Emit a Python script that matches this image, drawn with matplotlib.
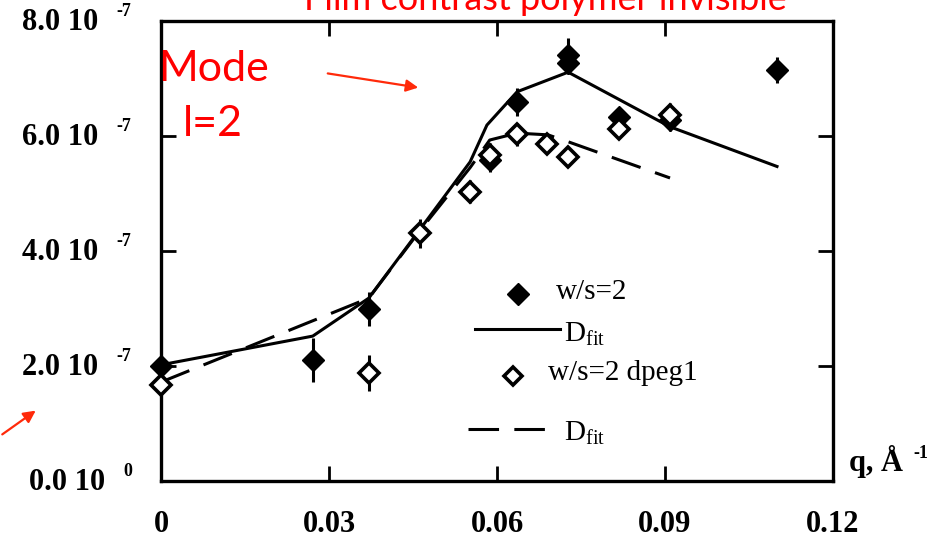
import matplotlib
matplotlib.use("Agg")
import matplotlib.pyplot as plt
import numpy as np

plt.rcParams["mathtext.fontset"] = "custom"
plt.rcParams["mathtext.rm"] = "Liberation Serif"
plt.rcParams["mathtext.it"] = "Liberation Serif:italic"
plt.rcParams["mathtext.bf"] = "Liberation Serif:bold"

# values of y are in units of 1e-7
q_filled = [0.0, 0.0271, 0.0371, 0.0587, 0.0636, 0.0727, 0.0727, 0.0818, 0.0909, 0.110]
d_filled = [2.00, 2.10, 2.99, 5.58, 6.59, 7.41, 7.27, 6.33, 6.28, 7.15]
e_filled = [0.0, 0.38, 0.30, 0.20, 0.25, 0.30, 0.20, 0.17, 0.20, 0.23]

q_open = [0.0, 0.0371, 0.0462, 0.0552, 0.0587, 0.0636, 0.0689, 0.0727, 0.0818, 0.0909]
d_open = [1.67, 1.88, 4.31, 5.03, 5.67, 6.03, 5.86, 5.64, 6.12, 6.37]
e_open = [0.0, 0.32, 0.25, 0.20, 0.20, 0.20, 0.0, 0.0, 0.0, 0.20]

q_fit = [0.0, 0.0271, 0.0371, 0.0462, 0.0552, 0.0582, 0.0636, 0.0727, 0.0909, 0.110]
d_fit = [2.02, 2.52, 3.18, 4.37, 5.55, 6.19, 6.77, 7.11, 6.16, 5.47]

q_fit2 = [0.0, 0.0371, 0.0462, 0.0552, 0.0587, 0.0636, 0.0691, 0.0727, 0.0909]
d_fit2 = [1.72, 3.18, 4.35, 5.45, 5.93, 6.05, 6.02, 5.90, 5.27]

x_ticks = [0, 0.03, 0.06, 0.09, 0.12]
x_labels = ["0", "0.03", "0.06", "0.09", "0.12"]
y_ticks = [0, 2, 4, 6, 8]
y_mant = ["0.0 10", "2.0 10", "4.0 10", "6.0 10", "8.0 10"]
y_exp = ["0", "-7", "-7", "-7", "-7"]

serif = "Liberation Serif"
red = "#ff0000"

fig = plt.figure(figsize=(9.51, 5.39), dpi=100)
ax = fig.add_axes([161 / 951, 1 - 481 / 539, 672 / 951, 460 / 539])

ax.plot(q_fit, d_fit, color="black", lw=2.2, zorder=2)
ax.plot(q_fit2, d_fit2, color="black", lw=2.2, dashes=(10, 5), zorder=2)

ax.errorbar(q_filled, d_filled, yerr=e_filled, fmt="D", ms=11, mfc="black", mec="black",
            ecolor="black", elinewidth=2.2, capsize=0, zorder=3, clip_on=False)
ax.errorbar(q_open, d_open, yerr=e_open, fmt="D", ms=10, mfc="white", mec="black", mew=2.6,
            ecolor="black", elinewidth=2.2, capsize=0, zorder=4, clip_on=False)

ax.set_xlim(0, 0.12)
ax.set_ylim(0, 8)
for s in ax.spines.values():
    s.set_linewidth(2.4)
ax.set_xticks(x_ticks)
ax.set_xticklabels(x_labels, fontfamily=serif, fontweight="bold", fontsize=22)
ax.set_yticks(y_ticks)
ax.set_yticklabels([])
ax.tick_params(direction="in", length=11, width=2, top=True, right=True, pad=21)

# y tick labels "a.b 10" with exponent
ytr = ax.get_yaxis_transform()
for i, v in enumerate(y_ticks):
    dx = -45 if v > 0 else -40
    ax.annotate(y_mant[i], xy=(0, v), xycoords=ytr, xytext=(dx, -1), textcoords="offset points",
                ha="right", va="center", fontfamily=serif, fontweight="bold", fontsize=22,
                annotation_clip=False)
    ax.annotate(y_exp[i], xy=(0, v), xycoords=ytr, xytext=(dx + 13, 7), textcoords="offset points",
                ha="left", va="center", fontfamily=serif, fontweight="bold", fontsize=13,
                annotation_clip=False)

# x axis label
fig.text(849 / 951, 1 - 462 / 539, "q, Å", fontfamily=serif, fontweight="bold", fontsize=22,
         ha="left", va="center")
fig.text(913 / 951, 1 - 453 / 539, "-1", fontfamily=serif, fontweight="bold", fontsize=13,
         ha="left", va="center")

# legend drawn by hand
lx = ax.transAxes.inverted()
def ax_pt(px, py):
    return lx.transform(fig.transFigure.transform((px / 951, 1 - py / 539)))

leg = dict(fontfamily=serif, fontsize=21, va="center", ha="left", transform=ax.transAxes)
p = ax_pt(518, 294)
ax.plot(p[0], p[1], "D", ms=11, color="black", transform=ax.transAxes)
ax.text(*ax_pt(556, 292), "w/s=2", **leg)
a, b = ax_pt(475, 329), ax_pt(560, 329)
ax.plot([a[0], b[0]], [a[1], b[1]], color="black", lw=2.2, transform=ax.transAxes)
ax.text(*ax_pt(564, 334), r"D$_{\mathrm{fit}}$", **leg)
p = ax_pt(513, 376)
ax.plot(p[0], p[1], "D", ms=9, mfc="white", mec="black", mew=2.6, transform=ax.transAxes)
ax.text(*ax_pt(548, 373), "w/s=2 dpeg1", **leg)
a, b = ax_pt(468, 429), ax_pt(557, 429)
ax.plot([a[0], b[0]], [a[1], b[1]], color="black", lw=2.2, dashes=(10, 5), transform=ax.transAxes)
ax.text(*ax_pt(564, 433), r"D$_{\mathrm{fit}}$", **leg)

# red annotations
fig.text(545 / 951, 1 - 10 / 539, "Film contrast polymer invisible", color=red, fontfamily="Lato",
         fontsize=26, ha="center", va="baseline")
fig.text(158 / 951, 1 - 69 / 539, "Mode", color=red, fontfamily="Lato", fontsize=31,
         ha="left", va="center")
fig.text(183 / 951, 1 - 124 / 539, "l=2", color=red, fontfamily="Lato", fontsize=31,
         ha="left", va="center")
fig.add_artist(matplotlib.patches.FancyArrowPatch((325 / 951, 1 - 73 / 539), (421 / 951, 1 - 88 / 539),
                                                  transform=fig.transFigure, arrowstyle="-|>",
                                                  mutation_scale=18, color="#ff2a0a", lw=1.6))
fig.add_artist(matplotlib.patches.FancyArrowPatch((0 / 951, 1 - 436 / 539), (38 / 951, 1 - 409 / 539),
                                                  transform=fig.transFigure, arrowstyle="-|>",
                                                  mutation_scale=18, color="#ff2a0a", lw=1.6))

fig.savefig("out.png", dpi=100)
